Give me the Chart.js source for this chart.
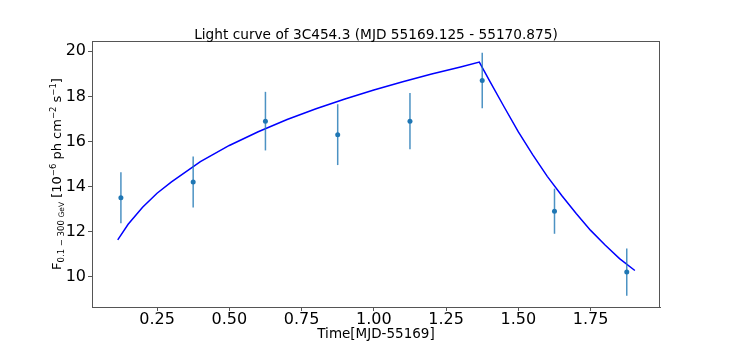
<!DOCTYPE html>
<html lang="en">
<head>
    <meta charset="UTF-8">
    <title>Light curve of 3C454.3</title>
    <script src="https://cdn.jsdelivr.net/npm/chart.js"></script>
    <style>
        body { margin: 0; background: #fff; }
        .box { width: 734px; height: 346px; position: relative; }
    </style>
</head>
<body>
    <div class="box">
        <canvas id="lightCurve"></canvas>
    </div>

    <script>
        // measured fluxes (10^-6 ph cm^-2 s^-1) per time bin
        const binTimes = [0.125, 0.375, 0.625, 0.875, 1.125, 1.375, 1.625, 1.875];
        const binFlux = [13.5, 14.2, 16.9, 16.3, 16.9, 18.7, 12.9, 10.2];
        const binErr = [1.13, 1.13, 1.3, 1.35, 1.25, 1.23, 1.0, 1.05];

        // fitted profile
        const fitTimes = [0.114, 0.15, 0.2, 0.25, 0.3, 0.4, 0.5, 0.6, 0.7, 0.8, 0.9, 1.0, 1.1, 1.2, 1.3, 1.365,
            1.4, 1.45, 1.5, 1.55, 1.6, 1.65, 1.7, 1.75, 1.8, 1.85, 1.903];
        const fitFlux = [11.63, 12.32, 13.08, 13.7, 14.2, 15.1, 15.82, 16.43, 16.97, 17.45, 17.88, 18.28, 18.65, 18.99, 19.3, 19.52,
            18.7, 17.55, 16.42, 15.4, 14.45, 13.6, 12.8, 12.05, 11.4, 10.8, 10.27];

        const xTicks = [0.25, 0.5, 0.75, 1.0, 1.25, 1.5, 1.75];
        const yTicks = [10, 12, 14, 16, 18, 20];

        const frameColor = '#555';
        const font = '"DejaVu Sans", sans-serif';

        // error bars, frame and hand-set texts
        const extras = {
            id: 'extras',
            afterDatasetsDraw(chart) {
                const ctx = chart.ctx;
                const xs = chart.scales.x, ys = chart.scales.y;
                ctx.save();
                ctx.strokeStyle = 'rgba(31,119,180,0.8)';
                ctx.lineWidth = 1.5;
                binTimes.forEach((t, i) => {
                    const px = xs.getPixelForValue(t);
                    ctx.beginPath();
                    ctx.moveTo(px, ys.getPixelForValue(binFlux[i] - binErr[i]));
                    ctx.lineTo(px, ys.getPixelForValue(binFlux[i] + binErr[i]));
                    ctx.stroke();
                });
                ctx.restore();
            },
            afterDraw(chart) {
                const ctx = chart.ctx;
                const a = chart.chartArea;
                ctx.save();
                ctx.strokeStyle = frameColor;
                ctx.lineWidth = 1;
                ctx.strokeRect(a.left + 0.5, a.top + 0.5, a.right - a.left - 1, a.bottom - a.top);

                ctx.fillStyle = '#000';
                ctx.textAlign = 'center';
                ctx.textBaseline = 'alphabetic';
                ctx.font = '13.7px ' + font;
                ctx.fillText('Light curve of 3C454.3 (MJD 55169.125 - 55170.875)', (a.left + a.right) / 2, 38.5);
                ctx.font = '13.5px ' + font;
                ctx.fillText('Time[MJD-55169]', (a.left + a.right) / 2, 338);

                // y label with sub/superscripts, rotated
                const parts = [
                    ['F', 13, 0], ['0.1 \u2212 300 ', 8.5, 3], ['GeV', 7.5, 3],
                    [' [10', 13, 0], ['\u22126', 8.5, -5], [' ph cm', 13, 0],
                    ['\u22122', 8.5, -5], [' s', 13, 0], ['\u22121', 8.5, -5], [']', 13, 0]
                ];
                let total = 0;
                parts.forEach(p => { ctx.font = p[1] + 'px ' + font; p.push(ctx.measureText(p[0]).width); total += p[3]; });
                ctx.translate(61, (a.top + a.bottom) / 2);
                ctx.rotate(-Math.PI / 2);
                ctx.textAlign = 'left';
                let cx = -total / 2;
                parts.forEach(p => {
                    ctx.font = p[1] + 'px ' + font;
                    ctx.fillText(p[0], cx, p[2]);
                    cx += p[3];
                });
                ctx.restore();
            }
        };

        new Chart(document.getElementById('lightCurve'), {
            type: 'scatter',
            data: {
                datasets: [{
                    label: 'fit',
                    data: fitTimes.map((t, i) => ({ x: t, y: fitFlux[i] })),
                    showLine: true,
                    borderColor: '#0000ff',
                    borderWidth: 1.5,
                    pointRadius: 0,
                    tension: 0
                }, {
                    label: 'data',
                    data: binTimes.map((t, i) => ({ x: t, y: binFlux[i] })),
                    backgroundColor: '#1f77b4',
                    borderColor: '#1f77b4',
                    pointRadius: 2.5,
                    borderWidth: 0
                }]
            },
            options: {
                responsive: true,
                maintainAspectRatio: false,
                animation: false,
                layout: { padding: { left: 0, right: 74, top: 41, bottom: 0 } },
                plugins: { legend: { display: false }, tooltip: { enabled: false } },
                scales: {
                    x: {
                        type: 'linear',
                        min: 0.025,
                        max: 1.99,
                        afterFit(s) { s.height = 39; },
                        afterBuildTicks(s) { s.ticks = xTicks.map(v => ({ value: v })); },
                        grid: { drawOnChartArea: false, color: frameColor, tickLength: 4 },
                        border: { color: frameColor },
                        ticks: {
                            color: '#000',
                            padding: -1,
                            maxRotation: 0,
                            font: { family: font, size: 16 },
                            callback: v => v.toFixed(2)
                        }
                    },
                    y: {
                        min: 8.65,
                        max: 20.457,
                        afterFit(s) { s.width = 92; },
                        afterBuildTicks(s) { s.ticks = yTicks.map(v => ({ value: v })); },
                        grid: { drawOnChartArea: false, color: frameColor, tickLength: 4 },
                        border: { color: frameColor },
                        ticks: {
                            color: '#000',
                            padding: 2,
                            font: { family: font, size: 16 },
                            callback: v => String(v)
                        }
                    }
                }
            },
            plugins: [extras]
        });
    </script>
</body>
</html>
